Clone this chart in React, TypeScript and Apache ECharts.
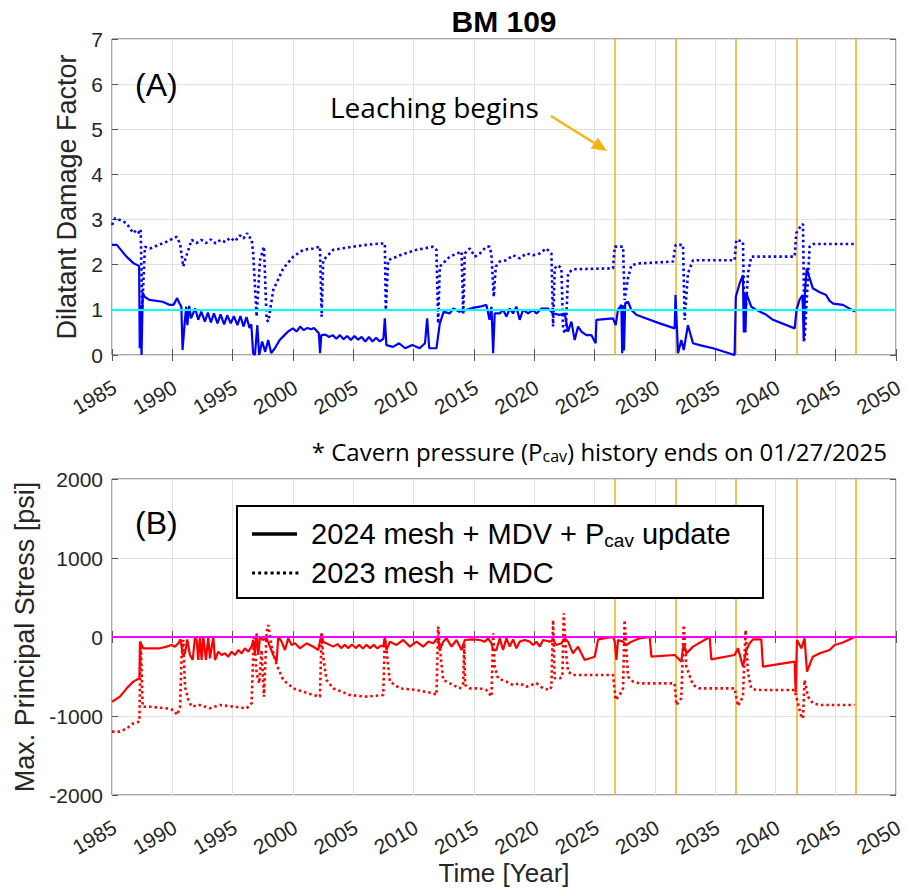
import { useEffect, useRef } from "react";
import * as echarts from "echarts";

// ---------- axis definitions ----------
const xMin = 1985;
const xMax = 2050;
const xStep = 5;
const ddfMin = 0;
const ddfMax = 7;
const ddfStep = 1;
const stressMin = -2000;
const stressMax = 2000;
const stressStep = 1000;

// reference lines
const ddfThreshold = 1;
const stressThreshold = 0;
const leachYears = [2026.7, 2031.7, 2036.7, 2041.75, 2046.7];

// ---------- (A) Dilatant damage factor ----------
const ddf2024: [number, number][] = [
  [1985.0, 2.44], [1985.4, 2.44], [1986.2, 2.18], [1986.8, 2.03], [1987.25, 1.97], [1987.3, 0.15],
  [1987.35, 1.1], [1987.45, 0.0], [1987.55, 1.38], [1987.7, 1.29], [1988.1, 1.22], [1989.2, 1.18],
  [1989.8, 1.11], [1990.1, 1.11], [1990.4, 1.26], [1990.6, 1.14], [1990.75, 1.07], [1990.85, 0.11],
  [1991.0, 0.63], [1991.15, 1.07], [1991.25, 0.66], [1991.4, 1.09], [1991.55, 0.81], [1991.9, 1.03],
  [1992.15, 0.78], [1992.4, 0.96], [1992.7, 0.74], [1992.95, 0.94], [1993.2, 0.72], [1993.45, 0.92],
  [1993.75, 0.7], [1994.0, 0.9], [1994.3, 0.68], [1994.55, 0.88], [1994.85, 0.7], [1995.1, 0.86],
  [1995.4, 0.66], [1995.65, 0.86], [1995.9, 0.63], [1996.15, 0.84], [1996.4, 0.6], [1996.55, 0.68],
  [1996.7, 0.04], [1996.85, 0.0], [1997.05, 0.66], [1997.2, 0.0], [1997.45, 0.3], [1997.7, 0.07],
  [1997.95, 0.33], [1998.2, 0.04], [1998.5, 0.15], [1998.9, 0.33], [1999.3, 0.44], [1999.6, 0.52],
  [2000.0, 0.59], [2000.3, 0.52], [2000.6, 0.63], [2000.9, 0.55], [2001.2, 0.6], [2001.5, 0.57],
  [2001.75, 0.6], [2002.15, 0.48], [2002.25, 0.04], [2002.35, 0.44], [2002.7, 0.45], [2003.0, 0.4],
  [2003.3, 0.44], [2003.6, 0.36], [2003.9, 0.44], [2004.2, 0.35], [2004.5, 0.42], [2004.8, 0.33],
  [2005.1, 0.42], [2005.4, 0.34], [2005.7, 0.4], [2006.0, 0.3], [2006.3, 0.4], [2006.6, 0.3],
  [2006.9, 0.38], [2007.2, 0.3], [2007.5, 0.36], [2007.62, 0.81], [2007.75, 0.22], [2008.3, 0.18],
  [2008.8, 0.26], [2009.3, 0.15], [2009.9, 0.22], [2010.5, 0.15], [2010.95, 0.26], [2011.13, 0.81],
  [2011.3, 0.15], [2011.9, 0.15], [2012.18, 0.7], [2012.5, 0.96], [2013.0, 0.92], [2013.3, 1.03],
  [2013.8, 0.96], [2014.4, 1.0], [2015.0, 1.05], [2015.5, 1.07], [2016.04, 1.11], [2016.3, 0.78],
  [2016.46, 1.07], [2016.6, 0.04], [2016.73, 0.92], [2017.15, 0.92], [2017.42, 1.0], [2017.7, 0.85],
  [2017.98, 1.03], [2018.25, 0.92], [2018.53, 1.07], [2018.8, 0.78], [2019.08, 1.0], [2019.5, 0.92],
  [2019.9, 1.0], [2020.2, 0.92], [2020.6, 1.03], [2021.15, 1.03], [2021.57, 0.92], [2022.12, 0.89],
  [2022.53, 0.92], [2022.81, 0.52], [2023.09, 0.74], [2023.36, 0.33], [2023.64, 0.63], [2023.92, 0.52],
  [2024.33, 0.44], [2024.75, 0.44], [2025.1, 0.26], [2025.16, 0.78], [2026.54, 0.81], [2026.76, 0.66],
  [2026.95, 1.0], [2027.23, 1.11], [2027.3, 0.04], [2027.37, 1.1], [2027.45, 0.1], [2027.55, 1.15],
  [2027.78, 1.18], [2028.06, 1.0], [2028.47, 0.89], [2029.3, 0.81], [2030.41, 0.7], [2031.65, 0.59],
  [2031.72, 1.33], [2031.93, 0.04], [2032.2, 0.33], [2032.4, 0.11], [2032.75, 0.66], [2033.17, 0.26],
  [2033.72, 0.22], [2034.83, 0.15], [2036.62, 0.0], [2036.72, 1.29], [2037.04, 1.59], [2037.31, 1.77],
  [2037.38, 0.5], [2037.45, 1.37], [2037.52, 0.5], [2037.59, 1.37], [2038.0, 1.07], [2038.42, 1.0],
  [2039.25, 0.89], [2039.8, 0.78], [2041.6, 0.59], [2041.75, 1.0], [2042.0, 1.22], [2042.25, 1.33],
  [2042.35, 0.3], [2042.45, 1.4], [2042.6, 1.92], [2042.8, 1.74], [2043.1, 1.48], [2043.6, 1.4],
  [2044.2, 1.33], [2044.5, 1.2], [2044.8, 1.14], [2045.6, 1.11], [2046.6, 0.96],
];

const ddf2023: [number, number][] = [
  [1985.0, 2.88], [1985.25, 3.03], [1985.66, 2.99], [1986.2, 2.92], [1986.77, 2.7], [1987.04, 2.77],
  [1987.27, 2.7], [1987.38, 2.77], [1987.5, 1.0], [1987.73, 2.4], [1988.15, 2.36], [1989.53, 2.51],
  [1990.36, 2.62], [1990.64, 2.47], [1990.91, 1.96], [1991.05, 2.1], [1991.33, 2.33], [1991.6, 2.55],
  [1992.0, 2.48], [1992.4, 2.55], [1992.8, 2.48], [1993.2, 2.56], [1993.6, 2.47], [1994.0, 2.55],
  [1994.4, 2.5], [1994.8, 2.6], [1995.2, 2.52], [1995.6, 2.65], [1995.9, 2.58], [1996.2, 2.7],
  [1996.3, 2.62], [1996.57, 2.58], [1996.71, 2.25], [1996.99, 0.85], [1997.27, 2.1], [1997.6, 2.4],
  [1997.82, 0.78], [1997.96, 0.74], [1998.37, 1.44], [1999.2, 1.92], [2000.03, 2.18], [2000.86, 2.33],
  [2001.69, 2.36], [2002.24, 2.4], [2002.38, 0.85], [2002.51, 2.1], [2003.34, 2.33], [2005.0, 2.4],
  [2006.1, 2.44], [2007.2, 2.47], [2007.62, 2.47], [2007.7, 1.0], [2007.9, 2.1], [2008.87, 2.21],
  [2010.25, 2.33], [2011.63, 2.4], [2011.9, 2.33], [2012.04, 0.7], [2012.18, 1.96], [2013.0, 2.18],
  [2013.98, 2.29], [2014.12, 0.92], [2014.25, 2.25], [2014.67, 2.36], [2015.08, 2.18], [2015.5, 2.25],
  [2016.05, 2.4], [2016.3, 2.4], [2016.45, 2.25], [2016.65, 1.29], [2016.82, 1.96], [2017.15, 2.07],
  [2017.7, 2.1], [2018.25, 2.21], [2018.8, 2.14], [2019.36, 2.25], [2019.9, 2.21], [2020.46, 2.25],
  [2021.0, 2.36], [2021.43, 2.25], [2021.57, 0.63], [2021.7, 1.92], [2021.98, 1.99], [2022.26, 1.92],
  [2022.4, 0.55], [2022.62, 0.48], [2022.81, 1.81], [2023.22, 1.9], [2026.54, 1.92], [2026.68, 2.4],
  [2027.37, 2.4], [2027.5, 1.22], [2027.78, 1.7], [2028.06, 1.99], [2028.75, 2.03], [2031.51, 2.07],
  [2031.73, 2.44], [2032.34, 2.44], [2032.48, 0.78], [2032.75, 1.81], [2033.17, 2.1], [2036.62, 2.1],
  [2036.76, 2.55], [2037.31, 2.51], [2037.45, 0.52], [2037.73, 1.81], [2038.0, 2.18], [2041.6, 2.18],
  [2041.73, 2.7], [2042.15, 2.88], [2042.29, 2.9], [2042.42, 0.33], [2042.84, 2.4], [2043.11, 2.46],
  [2046.57, 2.46],
];

// ---------- (B) Max. principal stress ----------
const stress2024: [number, number][] = [
  [1985.0, -819], [1985.66, -755], [1986.22, -650], [1986.77, -565], [1987.27, -523], [1987.32, -59],
  [1987.46, -101], [1987.6, -143], [1988.15, -143], [1988.98, -143], [1989.53, -122], [1989.94, -101],
  [1990.22, -122], [1990.5, -80], [1990.69, -30], [1990.86, -228], [1991.05, -207], [1991.24, -30],
  [1991.46, -228], [1991.69, -291], [1991.88, 0], [1992.02, -38], [1992.15, -291], [1992.29, 0],
  [1992.43, -291], [1992.57, 0], [1992.79, -291], [1992.98, 0], [1993.12, -270], [1993.4, 0],
  [1993.54, -291], [1993.81, -186], [1994.09, -228], [1994.36, -207], [1994.64, -249], [1994.92, -186],
  [1995.19, -228], [1995.47, -165], [1995.75, -207], [1996.02, -143], [1996.3, -186], [1996.57, -122],
  [1996.71, -38], [1996.85, -207], [1996.99, 46], [1997.13, -228], [1997.27, 4], [1997.54, -38],
  [1997.82, -17], [1998.09, -122], [1998.37, -228], [1998.65, -312], [1998.78, 4], [1999.06, -59],
  [1999.34, -165], [1999.61, -17], [1999.89, -101], [2000.17, -80], [2000.58, -143], [2001.13, -80],
  [2001.69, -122], [2002.1, -165], [2002.38, 46], [2002.51, -59], [2003.34, -122], [2003.7, -90],
  [2004.0, -140], [2004.3, -100], [2004.6, -140], [2004.9, -95], [2005.2, -140], [2005.5, -100],
  [2005.8, -145], [2006.1, -100], [2006.4, -140], [2006.7, -100], [2007.0, -145], [2007.3, -110],
  [2007.49, -120], [2007.62, 0], [2007.76, -165], [2008.04, -59], [2008.59, -101], [2009.14, -38],
  [2009.7, -122], [2010.25, -59], [2010.8, -122], [2011.22, -59], [2011.63, -80], [2012.04, 0],
  [2012.18, -165], [2012.46, -59], [2012.73, -17], [2013.15, -122], [2013.56, -38], [2013.98, -165],
  [2014.25, -38], [2014.94, -30], [2015.49, -38], [2015.9, -59], [2016.18, -17], [2016.46, -80],
  [2016.6, -165], [2016.87, -165], [2017.15, -17], [2017.42, -165], [2017.7, -17], [2017.98, -122],
  [2018.25, -30], [2018.53, -143], [2018.8, -59], [2019.22, -38], [2019.63, -59], [2019.91, -101],
  [2020.19, -59], [2020.46, -122], [2020.74, -38], [2021.29, -59], [2021.57, -38], [2021.84, -101],
  [2022.26, -80], [2022.53, -17], [2022.81, -59], [2023.22, -207], [2023.64, -122], [2024.19, -291],
  [2025.02, -249], [2025.3, -30], [2026.54, 0], [2026.68, -59], [2026.82, -291], [2026.95, -38],
  [2027.37, -59], [2027.64, -101], [2028.06, -59], [2028.75, -17], [2029.58, 0], [2029.72, -249],
  [2031.65, -228], [2031.93, -270], [2032.2, -312], [2032.4, -80], [2032.62, -207], [2033.17, -122],
  [2034.55, 0], [2034.69, -283], [2036.62, -228], [2036.9, -143], [2037.31, -376], [2037.59, -165],
  [2037.87, -80], [2038.14, -30], [2038.83, -30], [2038.97, -376], [2041.6, -312], [2041.68, -700],
  [2041.79, -38], [2042.15, -143], [2042.42, -17], [2042.62, -439], [2042.84, -354], [2043.11, -249],
  [2043.67, -207], [2044.5, -165], [2044.91, -101], [2045.6, -70], [2046.57, 0],
];

const stress2023: [number, number][] = [
  [1985.0, -1198], [1985.66, -1198], [1986.22, -1156], [1986.77, -1093], [1987.27, -1072], [1987.38, -59],
  [1987.54, -882], [1988.15, -882], [1989.53, -903], [1990.08, -924], [1990.41, -987], [1990.64, -882],
  [1990.77, -249], [1990.91, -38], [1991.05, -629], [1991.33, -797], [1991.6, -882], [1992.29, -860],
  [1993.12, -903], [1993.95, -860], [1995.06, -882], [1996.16, -903], [1996.57, -840], [1996.77, 25],
  [1996.99, -460], [1997.21, -586], [1997.4, -165], [1997.6, -755], [1997.82, 67], [1997.96, 152],
  [1998.23, -122], [1998.65, -354], [1999.2, -544], [2000.03, -650], [2000.86, -692], [2001.69, -734],
  [2002.24, -755], [2002.38, 46], [2002.51, -249], [2002.79, -544], [2003.34, -650], [2004.72, -734],
  [2006.1, -755], [2007.49, -734], [2007.62, -17], [2007.76, -165], [2008.04, -565], [2008.87, -650],
  [2010.25, -671], [2011.63, -713], [2011.9, -734], [2012.04, 131], [2012.18, -143], [2012.46, -544],
  [2013.29, -608], [2013.84, -650], [2014.12, -586], [2014.2, -80], [2014.28, -608], [2014.67, -650],
  [2015.49, -650], [2016.04, -671], [2016.46, -755], [2016.6, 46], [2016.73, -376], [2017.01, -523],
  [2017.7, -565], [2018.25, -608], [2018.8, -586], [2019.36, -629], [2020.19, -586], [2020.74, -650],
  [2021.29, -671], [2021.43, -629], [2021.57, 215], [2021.7, -523], [2022.12, -523], [2022.34, -502],
  [2022.45, 300], [2022.62, -165], [2022.81, -439], [2023.22, -481], [2026.54, -481], [2026.76, -797],
  [2027.09, -734], [2027.37, -650], [2027.5, 215], [2027.78, -502], [2028.2, -565], [2028.75, -587],
  [2031.65, -587], [2031.79, -861], [2032.2, -776], [2032.4, 152], [2032.62, -376], [2033.17, -608],
  [2033.72, -650], [2036.62, -650], [2036.9, -873], [2037.31, -755], [2037.53, 88], [2037.73, -460],
  [2038.0, -650], [2038.42, -671], [2041.6, -671], [2041.87, -840], [2042.15, -1008], [2042.29, -1030],
  [2042.42, -544], [2042.7, -755], [2043.11, -840], [2043.67, -861], [2046.57, -861],
];

// ---------- texts ----------
const titleText = "BM 109";
const ddfName = "Dilatant Damage Factor";
const stressName = "Max. Principal Stress [psi]";
const timeName = "Time [Year]";
const legend2024 = ["2024 mesh + MDV + P", "cav", " update"];
const legend2023 = "2023 mesh + MDC";
const noteParts = ["* Cavern pressure (P", "cav", ") history ends on 01/27/2025"];

const AXIS_FONT = "'Liberation Sans', Arial, Helvetica, sans-serif";
const NOTE_FONT = "'Open Sans', 'Noto Sans', sans-serif";
const AX_COLOR = "#555555";
const TXT_COLOR = "#262626";
const GRID_COLOR = "#e0e0e0";
const LEACH_COLOR = "#EDB120";
const DOT: number[] = [2.5, 3];

const G = [
  { left: 112, top: 39, width: 784, height: 316 },
  { left: 112, top: 479, width: 784, height: 316 },
];

const plain = (v: number) => String(v);

function xAxes() {
  const res: any[] = [];
  G.forEach((_, gi) => {
    res.push({
      type: "value",
      gridIndex: gi,
      position: "bottom",
      min: xMin,
      max: xMax,
      interval: xStep,
      axisLine: { show: false },
      axisTick: { show: true, inside: true, length: 6, lineStyle: { color: AX_COLOR } },
      axisLabel: {
        show: true,
        rotate: 30,
        margin: 32,
        fontSize: 21,
        fontFamily: AXIS_FONT,
        color: TXT_COLOR,
        formatter: plain,
        padding: [0, -3, 0, 0],
      },
      splitLine: { show: true, lineStyle: { color: GRID_COLOR, width: 1 } },
      name: gi === 1 ? timeName : "",
      nameLocation: "middle",
      nameGap: 55,
      nameTextStyle: { fontSize: 26, fontFamily: AXIS_FONT, color: TXT_COLOR },
    });
    res.push({
      type: "value",
      gridIndex: gi,
      position: "top",
      min: xMin,
      max: xMax,
      interval: xStep,
      axisLine: { show: false },
      axisTick: { show: true, inside: true, length: 6, lineStyle: { color: AX_COLOR } },
      axisLabel: { show: false },
      splitLine: { show: false },
    });
  });
  return res;
}

function yAxes() {
  const defs = [
    { min: ddfMin, max: ddfMax, step: ddfStep, name: ddfName, gap: 31 },
    { min: stressMin, max: stressMax, step: stressStep, name: stressName, gap: 73 },
  ];
  const res: any[] = [];
  defs.forEach((d, gi) => {
    res.push({
      type: "value",
      gridIndex: gi,
      position: "left",
      min: d.min,
      max: d.max,
      interval: d.step,
      axisLine: { show: false },
      axisTick: { show: true, inside: true, length: 6, lineStyle: { color: AX_COLOR } },
      axisLabel: { show: true, margin: 9, fontSize: 21, fontFamily: AXIS_FONT, color: TXT_COLOR, formatter: plain },
      splitLine: { show: true, lineStyle: { color: GRID_COLOR, width: 1 } },
      name: d.name,
      nameLocation: "middle",
      nameRotate: 90,
      nameGap: d.gap,
      nameTextStyle: { fontSize: 27, fontFamily: AXIS_FONT, color: TXT_COLOR },
    });
    res.push({
      type: "value",
      gridIndex: gi,
      position: "right",
      min: d.min,
      max: d.max,
      interval: d.step,
      axisLine: { show: false },
      axisTick: { show: true, inside: true, length: 6, lineStyle: { color: AX_COLOR } },
      axisLabel: { show: false },
      splitLine: { show: false },
    });
  });
  return res;
}

function leachMarks() {
  return leachYears.map((x) => ({ xAxis: x }));
}

export default function App() {
  const ref = useRef<HTMLDivElement>(null);

  useEffect(() => {
    if (!ref.current) return;
    const chart = echarts.init(ref.current, undefined, { renderer: "svg" });

    const ax = (x1: number, y1: number, x2: number, y2: number) => ({ x1, y1, x2, y2 });

    // arrow geometry (Leaching begins)
    const tip = [607, 151];
    const tail = [551, 116];
    const dx = tip[0] - tail[0];
    const dy = tip[1] - tail[1];
    const len = Math.sqrt(dx * dx + dy * dy);
    const ux = dx / len;
    const uy = dy / len;
    const headL = 15;
    const headW = 6.5;
    const bx = tip[0] - ux * headL;
    const by = tip[1] - uy * headL;

    const option: any = {
      animation: false,
      backgroundColor: "#ffffff",
      grid: G.map((g) => ({
        ...g,
        show: true,
        borderColor: AX_COLOR,
        borderWidth: 1,
        backgroundColor: "#ffffff",
        containLabel: false,
      })),
      xAxis: xAxes(),
      yAxis: yAxes(),
      series: [
        {
          type: "line",
          xAxisIndex: 0,
          yAxisIndex: 0,
          data: ddf2023,
          showSymbol: false,
          symbol: "none",
          lineStyle: { color: "#0000FF", width: 2.6, type: DOT },
          z: 3,
          markLine: {
            silent: true,
            symbol: "none",
            label: { show: false },
            lineStyle: { color: LEACH_COLOR, width: 1.5, type: "solid" },
            data: leachMarks(),
            z: 1,
          },
        },
        {
          type: "line",
          xAxisIndex: 0,
          yAxisIndex: 0,
          data: ddf2024,
          showSymbol: false,
          symbol: "none",
          lineStyle: { color: "#0000FF", width: 2.2 },
          z: 4,
          markLine: {
            silent: true,
            symbol: "none",
            label: { show: false },
            lineStyle: { color: "#00FFFF", width: 2, type: "solid" },
            data: [{ yAxis: ddfThreshold }],
          },
        },
        {
          type: "line",
          xAxisIndex: 2,
          yAxisIndex: 2,
          data: stress2023,
          showSymbol: false,
          symbol: "none",
          lineStyle: { color: "#FF0000", width: 2.6, type: DOT },
          z: 3,
          markLine: {
            silent: true,
            symbol: "none",
            label: { show: false },
            lineStyle: { color: LEACH_COLOR, width: 1.5, type: "solid" },
            data: leachMarks(),
            z: 1,
          },
        },
        {
          type: "line",
          xAxisIndex: 2,
          yAxisIndex: 2,
          data: stress2024,
          showSymbol: false,
          symbol: "none",
          lineStyle: { color: "#FF0000", width: 2.2 },
          z: 4,
          markLine: {
            silent: true,
            symbol: "none",
            label: { show: false },
            lineStyle: { color: "#FF00FF", width: 2, type: "solid" },
            data: [{ yAxis: stressThreshold }],
          },
        },
      ],
      graphic: [
        {
          type: "text",
          x: 504,
          y: 21,
          style: {
            text: titleText,
            fontSize: 30,
            fontWeight: "bold",
            fontFamily: AXIS_FONT,
            fill: "#000",
            align: "center",
            verticalAlign: "middle",
          },
          z: 20,
        },
        {
          type: "text",
          style: { x: 135, y: 85, text: "(A)", font: `32px ${AXIS_FONT}`, fill: "#000", align: "left", verticalAlign: "middle" },
          z: 20,
        },
        {
          type: "text",
          style: { x: 135, y: 523, text: "(B)", font: `32px ${AXIS_FONT}`, fill: "#000", align: "left", verticalAlign: "middle" },
          z: 20,
        },
        {
          type: "text",
          style: {
            x: 330,
            y: 107,
            text: "Leaching begins",
            font: `28px ${NOTE_FONT}`,
            fill: "#000",
            align: "left",
            verticalAlign: "middle",
          },
          z: 20,
        },
        {
          type: "line",
          shape: ax(tail[0], tail[1], bx, by),
          style: { stroke: "#F5B316", lineWidth: 2.5 },
          z: 20,
        },
        {
          type: "polygon",
          shape: {
            points: [
              [tip[0], tip[1]],
              [bx - uy * headW, by + ux * headW],
              [bx + uy * headW, by - ux * headW],
            ],
          },
          style: { fill: "#F5B316" },
          z: 20,
        },
        {
          type: "text",
          style: {
            x: 887,
            y: 451,
            text: `{n|${noteParts[0]}}{s|${noteParts[1]}}{n|${noteParts[2]}}`,
            align: "right",
            verticalAlign: "middle",
            rich: {
              n: { fontSize: 24, fontFamily: NOTE_FONT, fill: "#000", lineHeight: 26 },
              s: { fontSize: 16, fontFamily: NOTE_FONT, fill: "#000", lineHeight: 6, verticalAlign: "bottom" },
            },
          },
          z: 20,
        },
        // legend box
        {
          type: "rect",
          shape: { x: 237, y: 506, width: 526, height: 92 },
          style: { fill: "#ffffff", stroke: "#000000", lineWidth: 2 },
          z: 30,
        },
        {
          type: "line",
          shape: ax(252, 534, 297, 534),
          style: { stroke: "#000", lineWidth: 3.5 },
          z: 31,
        },
        {
          type: "line",
          shape: ax(252, 573, 300, 573),
          style: { stroke: "#000", lineWidth: 3, lineDash: [3, 3.2] },
          z: 31,
        },
        {
          type: "text",
          style: {
            x: 311,
            y: 534,
            text: `{n|${legend2024[0]}}{s|${legend2024[1]}}{n|${legend2024[2]}}`,
            align: "left",
            verticalAlign: "middle",
            rich: {
              n: { fontSize: 29, fontFamily: AXIS_FONT, fill: "#000", lineHeight: 31 },
              s: { fontSize: 19, fontFamily: AXIS_FONT, fill: "#000", lineHeight: 8, verticalAlign: "bottom" },
            },
          },
          z: 31,
        },
        {
          type: "text",
          style: {
            x: 311,
            y: 573,
            text: legend2023,
            font: `29px ${AXIS_FONT}`,
            fill: "#000",
            align: "left",
            verticalAlign: "middle",
          },
          z: 31,
        },
      ],
    };

    chart.setOption(option);
    return () => chart.dispose();
  }, []);

  return (
    <div
      ref={ref}
      style={{ position: "absolute", left: 0, top: 0, width: 907, height: 890, background: "#fff" }}
    />
  );
}
